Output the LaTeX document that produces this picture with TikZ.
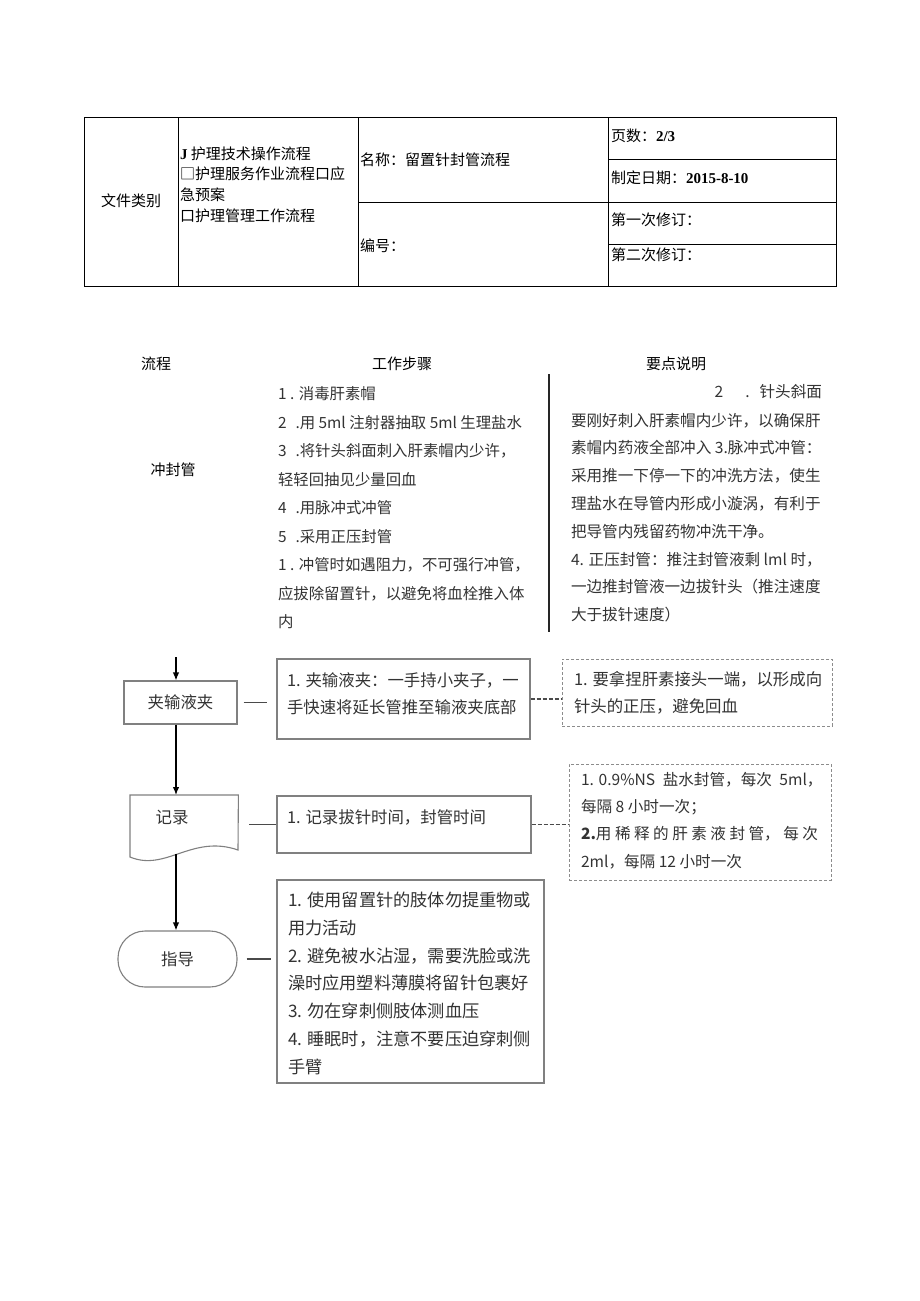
\documentclass[tikz,border=0pt]{standalone}
\usepackage{fontspec}
\setmainfont{Noto Sans CJK SC}
\newfontfamily\tnr{Liberation Serif}
\usetikzlibrary{arrows.meta}
\definecolor{boxgray}{HTML}{808080}
\definecolor{dashgray}{HTML}{8C8C8C}
\definecolor{txtgray}{HTML}{333333}
\definecolor{linegray}{HTML}{4A4A4A}
\tikzset{
  tbl/.style={line width=0.8pt, draw=black},
  txt/.style={inner sep=0pt, outer sep=0pt, align=left, text=black},
  t15/.style={txt, font=\fontsize{15}{20.7}\selectfont},
  steps/.style={txt, font=\fontsize{15.4}{28.5}\selectfont, text=txtgray},
  notes/.style={txt, font=\fontsize{15.6}{27.8}\selectfont, text=txtgray},
  flowbox/.style={draw=boxgray, line width=1.1pt, inner sep=0pt},
  dashbox/.style={draw=dashgray, line width=0.9pt, dash pattern=on 3pt off 2pt, inner sep=0pt},
  ftxt/.style={txt, font=\fontsize{16.4}{27}\selectfont, text=txtgray},
  gtxt/.style={txt, font=\fontsize{17.2}{27.8}\selectfont, text=txtgray},
  arr/.style={line width=1.3pt, draw=black, -{Latex[length=8pt,width=6.5pt]}},
  link/.style={line width=1.3pt, draw=linegray},
  dlink/.style={line width=1.3pt, draw=linegray, dash pattern=on 4pt off 2pt},
}
\begin{document}
\begin{tikzpicture}[x=1pt,y=-1pt]
\useasboundingbox (0,0) rectangle (920,1301);
\fill[white] (0,0) rectangle (920,1301);

% ---------- header table ----------
\draw[tbl] (84,117) rectangle (836,286);
\draw[tbl] (178,117) -- (178,286);
\draw[tbl] (358,117) -- (358,286);
\draw[tbl] (608,117) -- (608,286);
\draw[tbl] (358,202) -- (836,202);
\draw[tbl] (608,159) -- (836,159);
\draw[tbl] (608,244) -- (836,244);

\node[t15] (cat) at (131,201) {文件类别};
% base anchor of a multi-line node = baseline of its last line
\node[t15, anchor=base west] (catlist) at (180,221.1)
  {{\tnr\bfseries J} 护理技术操作流程\\□护理服务作业流程口应\\急预案\\口护理管理工作流程};
\node[t15, anchor=west] (name) at (360,160) {名称：留置针封管流程};
\node[t15, anchor=west] (code) at (360,246) {编号：};
\node[t15, anchor=west] (page) at (611,136) {页数：{\tnr\bfseries 2/3}};
\node[t15, anchor=west] (date) at (611,178) {制定日期：{\tnr\bfseries 2015-8-10}};
\node[t15, anchor=west] (rev1) at (611,220) {第一次修订：};
\node[t15, anchor=west] (rev2) at (611,255) {第二次修订：};

% ---------- column headings ----------
\node[t15] (h1) at (156,364) {流程};
\node[t15] (h2) at (402,364) {工作步骤};
\node[t15] (h3) at (676,364) {要点说明};
\draw[line width=1.5pt, draw=black!85] (549,374) -- (549,632);

\node[t15] (chong) at (173,470) {冲封管};

\node[steps, anchor=base west] (stepsn) at (278,627.5)
  {1 . 消毒肝素帽\\
   2\hspace{9pt}.用 5ml 注射器抽取 5ml 生理盐水\\
   3\hspace{9pt}.将针头斜面刺入肝素帽内少许，\\
   轻轻回抽见少量回血\\
   4\hspace{9pt}.用脉冲式冲管\\
   5\hspace{9pt}.采用正压封管\\
   1 . 冲管时如遇阻力，不可强行冲管，\\
   应拔除留置针，以避免将血栓推入体\\
   内};

\node[notes, anchor=base east] (note0) at (822,397.5) {2\hspace{22pt}.\hspace{10pt}针头斜面};
\node[notes, anchor=base west] (notesn) at (571,620.6)
  {要刚好刺入肝素帽内少许，以确保肝\\
   素帽内药液全部冲入 3.脉冲式冲管：\\
   采用推一下停一下的冲洗方法，使生\\
   理盐水在导管内形成小漩涡，有利于\\
   把导管内残留药物冲洗干净。\\
   4. 正压封管：推注封管液剩 lml 时，\\
   一边推封管液一边拔针头（推注速度\\
   大于拔针速度）};

% ---------- flow ----------
\coordinate (top) at (176,657);

\node[flowbox, minimum width=113pt, minimum height=43pt, font=\fontsize{16.4}{20}\selectfont, text=txtgray] (jia) at (180.5,702.5) {夹输液夹};
\node[flowbox, minimum width=253pt, minimum height=80pt] (b1) at (403.5,699) {};
\node[ftxt, anchor=base west] (b1t) at (287,713) {1. 夹输液夹：一手持小夹子，一\\手快速将延长管推至输液夹底部};
\node[dashbox, minimum width=270pt, minimum height=67pt] (d1) at (697,692.5) {};
\node[ftxt, anchor=base west] (d1t) at (574,712) {1. 要拿捏肝素接头一端，以形成向\\针头的正压，避免回血};

\draw[arr] (top) -- (jia.north -| top);
\draw[link] ([xshift=6pt]jia.east) -- ([xshift=-9pt]jia.east -| b1.west);
\draw[dlink] (b1.east) -- (b1.east -| d1.west);

% document shape
\node[inner sep=0pt, minimum width=108pt, minimum height=58pt, anchor=north west] (rec) at (130,795) {};
\draw[flowbox] (rec.north west) -- (rec.north east) -- (238,850)
   .. controls (192,834) and (166,872) .. (130,857) -- cycle;
\node[txt, font=\fontsize{16.4}{20}\selectfont, text=txtgray] (rect) at (172,817) {记录};
\coordinate (recb) at (176,854);

\node[flowbox, minimum width=254pt, minimum height=57pt] (b2) at (404,824.5) {};
\node[ftxt, anchor=west] (b2t) at (287,817) {1. 记录拔针时间，封管时间};
\node[dashbox, minimum width=262pt, minimum height=116pt] (d2) at (700,822) {};
\node[notes, anchor=base west, font=\fontsize{15.6}{27.4}\selectfont] (d2t) at (581,867.2)
  {1. 0.9\%NS\hspace{4pt} 盐水封管，每次\hspace{4pt} 5ml，\\
   每隔 8 小时一次；\\
   \makebox[237pt][l]{{\bfseries 2.}用\hfill 稀\hfill 释\hfill 的\hfill 肝\hfill 素\hfill 液\hfill 封\hfill 管，\hfill 每\hfill 次}\\
   2ml，每隔 12 小时一次};

\draw[arr] (jia.south -| top) -- (rec.north -| top);
\draw[link] ([xshift=11pt]b2.west -| rec.east) -- (b2.west);
\draw[dlink] (b2.east) -- (b2.east -| d2.west);

\node[flowbox, rounded corners=27pt, minimum width=119pt, minimum height=56pt, font=\fontsize{16.4}{20}\selectfont, text=txtgray] (zhi) at (177.5,959) {指导};
\node[flowbox, minimum width=267pt, minimum height=203pt] (b3) at (410.5,981.5) {};
\node[gtxt, anchor=base west] (b3t) at (288,1073.3)
  {1. 使用留置针的肢体勿提重物或\\
   用力活动\\
   2. 避免被水沾湿，需要洗脸或洗\\
   澡时应用塑料薄膜将留针包裹好\\
   3. 勿在穿刺侧肢体测血压\\
   4. 睡眠时，注意不要压迫穿刺侧\\
   手臂};

\draw[arr] (recb) -- (zhi.north -| recb);
\draw[link] ([xshift=9pt]zhi.east) -- ([xshift=-5pt]zhi.east -| b3.west);
\end{tikzpicture}
\end{document}
